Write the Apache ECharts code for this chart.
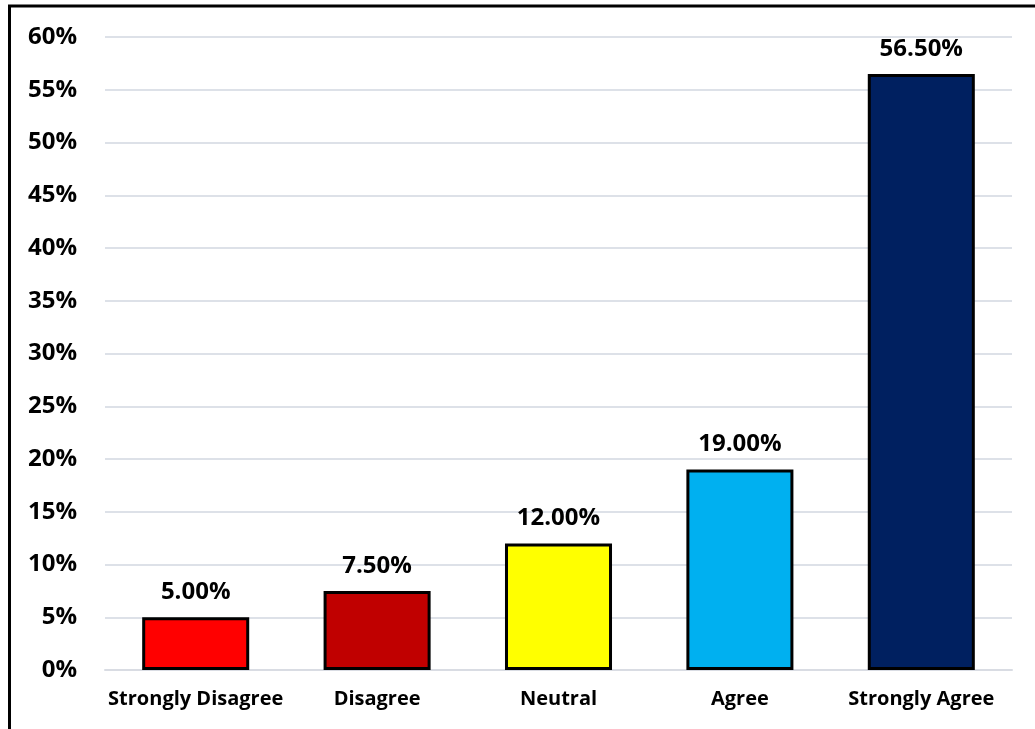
<!DOCTYPE html>
<html>
<head>
<meta charset="utf-8">
<script src="https://cdn.jsdelivr.net/npm/echarts@6/dist/echarts.min.js"></script>
<style>
	html, body { margin:0; padding:0; background:#fff; }
	#chart { width:1035px; height:729px; }
</style>
</head>
<body>
<div id="chart"></div>
<script>
	const categories = ['Strongly Disagree', 'Disagree', 'Neutral', 'Agree', 'Strongly Agree'];
	const values = [5.0, 7.5, 12.0, 19.0, 56.5];
	const bar_colors = ['#FF0000', '#C00000', '#FFFF00', '#00B0F0', '#002060'];

	const FONT = '"Open Sans"';

	let chart = echarts.init(document.getElementById('chart'));
	let option = {
		backgroundColor: '#fff',
		animation: false,
		grid: {
			left: 105,
			right: 23,
			top: 37,
			bottom: 59
		},
		graphic: [
			{ type: 'line', shape: { x1: 9.5, y1: 6, x2: 9.5, y2: 729 }, style: { stroke: '#000', lineWidth: 3 } },
			{ type: 'line', shape: { x1: 8, y1: 6, x2: 1035, y2: 6 }, style: { stroke: '#000', lineWidth: 3 } }
		],
		xAxis: {
			type: 'category',
			data: categories,
			axisTick: { show: false },
			axisLine: { lineStyle: { color: '#D9DCE3', width: 2 } },
			axisLabel: {
				interval: 0,
				margin: 19,
				color: '#000',
				fontFamily: FONT,
				fontWeight: 'bold',
				fontSize: 20
			}
		},
		yAxis: {
			type: 'value',
			min: 0,
			max: 60,
			interval: 5,
			axisLine: { show: false },
			axisTick: { show: false },
			splitLine: { lineStyle: { color: '#DDE1E8', width: 2 } },
			axisLabel: {
				margin: 28,
				color: '#000',
				fontFamily: FONT,
				fontWeight: 'bold',
				fontSize: 24,
				formatter: '{value}%'
			}
		},
		series: [{
			type: 'bar',
			barWidth: '59%',
			data: values.map((v, i) => ({
				value: v,
				itemStyle: { color: bar_colors[i] }
			})),
			itemStyle: { borderColor: '#000', borderWidth: 3 },
			label: {
				show: true,
				position: 'top',
				distance: 13,
				color: '#000',
				fontFamily: FONT,
				fontWeight: 'bold',
				fontSize: 24,
				formatter: p => p.value.toFixed(2) + '%'
			}
		}]
	};
	chart.setOption(option);
</script>
</body>
</html>
